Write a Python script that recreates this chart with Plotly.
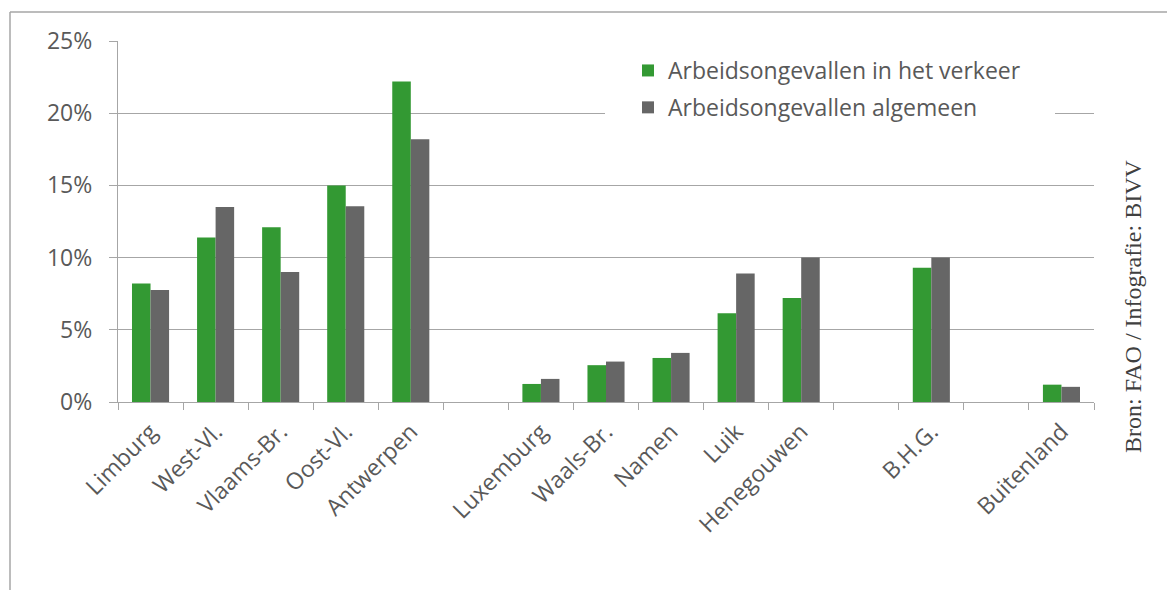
import plotly.graph_objects as go

# Provinces, with blank slots separating the regions
categories = ["Limburg", "West-Vl.", "Vlaams-Br.", "Oost-Vl.", "Antwerpen", " ",
              "Luxemburg", "Waals-Br.", "Namen", "Luik", "Henegouwen", "  ",
              "B.H.G.", "   ", "Buitenland"]
verkeer = [8.2, 11.4, 12.1, 15.0, 22.2, None,
           1.25, 2.55, 3.05, 6.15, 7.2, None,
           9.3, None, 1.2]
algemeen = [7.75, 13.5, 9.0, 13.55, 18.2, None,
            1.6, 2.8, 3.4, 8.9, 10.0, None,
            10.0, None, 1.05]
y_ticks = [0, 5, 10, 15, 20, 25]
y_labels = ["0%", "5%", "10%", "15%", "20%", "25%"]

GREEN = "#339933"
GREY = "#666666"
TEXT = "#595959"
LINE = "#a6a6a6"
FONT = "Open Sans"

# plot area in pixels (used to place the frame and legend backdrop)
W, H = 1167, 590
L, R, T, B = 118, 73, 41, 188
pw, ph = W - L - R, H - T - B


def px_x(x):
    return (x - L) / pw


def px_y(y):
    return (H - B - y) / ph


fig = go.Figure()
fig.add_trace(go.Bar(x=categories, y=verkeer, name="Arbeidsongevallen in het verkeer",
                     marker=dict(color=GREEN, line=dict(width=0)), legendgroup="a"))
fig.add_trace(go.Bar(x=categories, y=algemeen, name="Arbeidsongevallen algemeen",
                     marker=dict(color=GREY, line=dict(width=0)), legendgroup="b"))

fig.update_layout(
    width=W, height=H,
    margin=dict(l=L, r=R, t=T, b=B),
    paper_bgcolor="white", plot_bgcolor="white",
    barmode="group", bargap=0.43, bargroupgap=0,
    font=dict(family=FONT, color=TEXT),
    showlegend=True,
    legend=dict(x=px_x(628), y=px_y(49), xanchor="left", yanchor="top",
                bgcolor="rgba(0,0,0,0)", font=dict(size=23, color=TEXT),
                traceorder="grouped", tracegroupgap=4, itemwidth=30),
    xaxis=dict(type="category", categoryorder="array", categoryarray=categories,
               tickson="boundaries", ticks="outside", ticklen=7, tickwidth=1.3,
               tickcolor=LINE, showline=True, linecolor=LINE, linewidth=1.3,
               showgrid=False, tickangle=-45, ticklabelstandoff=6,
               tickfont=dict(size=23, color=TEXT)),
    yaxis=dict(range=[0, 25], tickvals=y_ticks, ticktext=y_labels, ticks="outside",
               ticklen=8, tickwidth=1.3, tickcolor=LINE, showline=True,
               linecolor=LINE, linewidth=1.3, showgrid=True, gridcolor=LINE,
               gridwidth=1.3, zeroline=False, ticklabelstandoff=12,
               tickfont=dict(size=23, color=TEXT)),
    shapes=[
        # white backdrop behind the legend
        dict(type="rect", xref="paper", yref="paper", x0=px_x(605), x1=px_x(1055),
             y0=px_y(127), y1=px_y(50), fillcolor="white", line=dict(width=0),
             layer="above"),
        # outer frame, top and left edges
        dict(type="line", xref="paper", yref="paper", x0=px_x(10), x1=px_x(W),
             y0=px_y(12), y1=px_y(12), line=dict(color=LINE, width=1.5)),
        dict(type="line", xref="paper", yref="paper", x0=px_x(10), x1=px_x(10),
             y0=px_y(12), y1=px_y(H), line=dict(color=LINE, width=1.5)),
    ],
    annotations=[
        dict(text="Bron: FAO / Infografie: BIVV", xref="paper", yref="paper",
             x=px_x(1133), y=px_y(306), xanchor="center", yanchor="middle",
             showarrow=False, textangle=-90,
             font=dict(family="Liberation Serif", size=24, color="#404040")),
    ],
)

fig.write_html("out.html")
